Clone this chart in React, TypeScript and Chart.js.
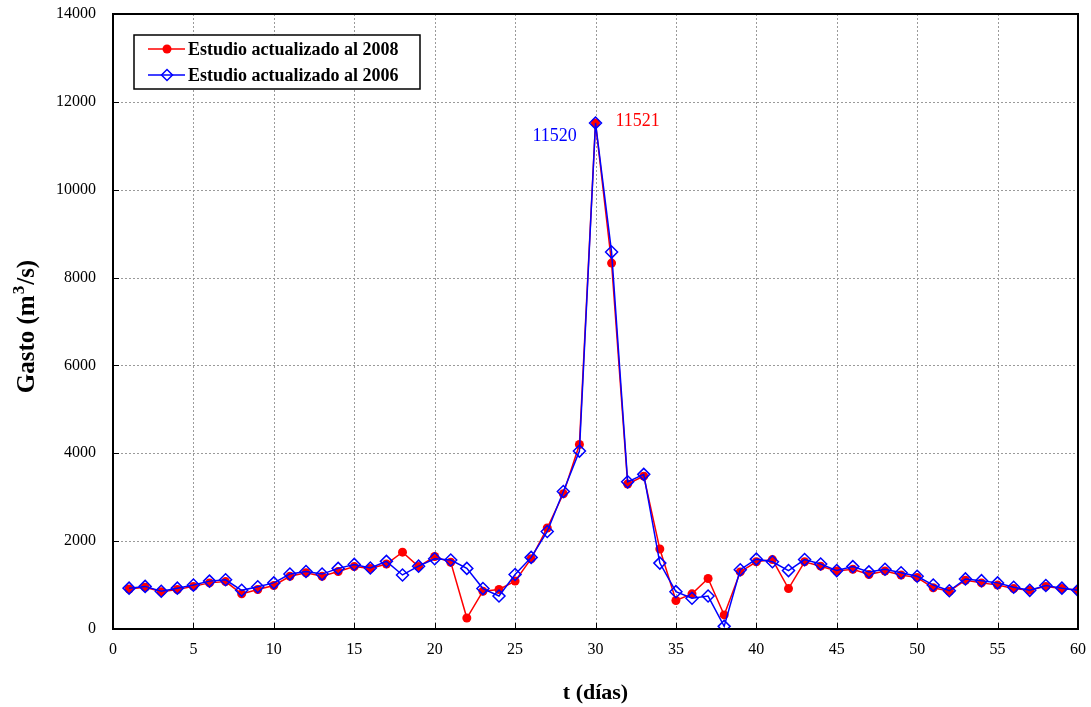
import React, { useEffect, useRef } from "react";
import { Chart, registerables } from "chart.js";

Chart.register(...registerables);

const days: number[] = Array.from({ length: 60 }, (_, i) => i + 1);

const gasto2008: number[] = [
  910, 950, 850, 900, 970, 1050, 1080, 800, 900, 990,
  1200, 1280, 1200, 1310, 1420, 1380, 1480, 1750, 1420, 1650,
  1520, 250, 860, 900, 1090, 1600, 2300, 3080, 4200, 11521,
  8330, 3300, 3480, 1820, 650, 800, 1150, 320, 1300, 1530,
  1580, 920, 1530, 1430, 1320, 1360, 1240, 1320, 1230, 1170,
  940, 860, 1110, 1050, 1000, 920, 880, 970, 920, 880,
];

const gasto2006: number[] = [
  930, 970, 860, 930, 1000, 1090, 1120, 880, 960, 1050,
  1250, 1310, 1250, 1380, 1470, 1390, 1540, 1230, 1430, 1600,
  1570, 1380, 920, 750, 1240, 1630, 2220, 3130, 4050, 11520,
  8580, 3350, 3520, 1500, 850, 700, 750, 60, 1350, 1590,
  1530, 1330, 1580, 1480, 1330, 1420, 1300, 1360, 1280, 1200,
  1000, 870, 1140, 1100, 1050, 950, 880, 990, 930, 880,
];

const seriesLabels: string[] = ["Estudio actualizado al 2008", "Estudio actualizado al 2006"];
const xTitle = "t (días)";
const yTitleParts: string[] = ["Gasto (m", "3", "/s)"];
const peakLabel2006 = "11520";
const peakLabel2008 = "11521";

const SERIF = "'Liberation Serif', 'Times New Roman', serif";

export default function App() {
  const ref = useRef<HTMLCanvasElement | null>(null);

  useEffect(() => {
    document.body.style.margin = "0";
    const canvas = ref.current;
    if (!canvas) return;

    const gridPlugin = {
      id: "dottedGrid",
      beforeDatasetsDraw(chart: any) {
        const { ctx, chartArea } = chart;
        const { left, right, top, bottom } = chartArea;
        const xs = chart.scales.x;
        const ys = chart.scales.y;
        ctx.save();
        ctx.strokeStyle = "#9a9a9a";
        ctx.lineWidth = 1;
        ctx.setLineDash([2, 2]);
        ctx.beginPath();
        for (let t = 5; t < 60; t += 5) {
          const px = Math.round(xs.getPixelForValue(t)) + 0.5;
          ctx.moveTo(px, top);
          ctx.lineTo(px, bottom);
        }
        for (let v = 2000; v < 14000; v += 2000) {
          const py = Math.round(ys.getPixelForValue(v)) + 0.5;
          ctx.moveTo(left, py);
          ctx.lineTo(right, py);
        }
        ctx.stroke();
        ctx.restore();
      },
    };

    const framePlugin = {
      id: "frameAndExtras",
      afterDraw(chart: any) {
        const { ctx, chartArea } = chart;
        const { left, right, top, bottom } = chartArea;
        const xs = chart.scales.x;
        const ys = chart.scales.y;
        ctx.save();
        // inward ticks
        ctx.strokeStyle = "#000";
        ctx.lineWidth = 1;
        ctx.beginPath();
        for (let t = 5; t < 60; t += 5) {
          const px = Math.round(xs.getPixelForValue(t)) + 0.5;
          ctx.moveTo(px, bottom);
          ctx.lineTo(px, bottom - 6);
        }
        for (let v = 2000; v < 14000; v += 2000) {
          const py = Math.round(ys.getPixelForValue(v)) + 0.5;
          ctx.moveTo(left, py);
          ctx.lineTo(left + 6, py);
        }
        ctx.stroke();
        // frame
        ctx.lineWidth = 2;
        ctx.strokeRect(left, top, right - left, bottom - top);

        // legend
        const lx = 134, ly = 35, lw = 286, lh = 54;
        ctx.fillStyle = "#fff";
        ctx.fillRect(lx, ly, lw, lh);
        ctx.lineWidth = 1.5;
        ctx.strokeStyle = "#000";
        ctx.strokeRect(lx, ly, lw, lh);
        const rows = [ly + 14, ly + 40];
        ctx.strokeStyle = "#ff0000";
        ctx.lineWidth = 1.5;
        ctx.beginPath();
        ctx.moveTo(148, rows[0]);
        ctx.lineTo(185, rows[0]);
        ctx.stroke();
        ctx.fillStyle = "#ff0000";
        ctx.beginPath();
        ctx.arc(167, rows[0], 4.5, 0, Math.PI * 2);
        ctx.fill();
        ctx.strokeStyle = "#0000ff";
        ctx.beginPath();
        ctx.moveTo(148, rows[1]);
        ctx.lineTo(185, rows[1]);
        ctx.stroke();
        ctx.beginPath();
        ctx.moveTo(167, rows[1] - 5.5);
        ctx.lineTo(172.5, rows[1]);
        ctx.lineTo(167, rows[1] + 5.5);
        ctx.lineTo(161.5, rows[1]);
        ctx.closePath();
        ctx.stroke();
        ctx.fillStyle = "#000";
        ctx.font = `bold 18px ${SERIF}`;
        ctx.textAlign = "left";
        ctx.textBaseline = "middle";
        ctx.fillText(seriesLabels[0], 188, rows[0] + 1);
        ctx.fillText(seriesLabels[1], 188, rows[1] + 1);

        // peak labels
        const px30 = xs.getPixelForValue(30);
        ctx.font = `18px ${SERIF}`;
        ctx.textBaseline = "middle";
        ctx.textAlign = "left";
        ctx.fillStyle = "#0000ff";
        ctx.fillText(peakLabel2006, px30 - 63, ys.getPixelForValue(11520) + 13);
        ctx.fillStyle = "#ff0000";
        ctx.fillText(peakLabel2008, px30 + 20, ys.getPixelForValue(11521) - 2);

        // y title with superscript
        const mainFont = `bold 25px ${SERIF}`;
        const supFont = `bold 17px ${SERIF}`;
        ctx.font = mainFont;
        const w0 = ctx.measureText(yTitleParts[0]).width;
        const w2 = ctx.measureText(yTitleParts[2]).width;
        ctx.font = supFont;
        const w1 = ctx.measureText(yTitleParts[1]).width;
        const total = w0 + w1 + w2 + 2;
        const cy = (top + bottom) / 2 + 5;
        ctx.translate(25, cy);
        ctx.rotate(-Math.PI / 2);
        ctx.fillStyle = "#000";
        ctx.textBaseline = "alphabetic";
        ctx.textAlign = "left";
        let x0 = -total / 2;
        const base = 9;
        ctx.font = mainFont;
        ctx.fillText(yTitleParts[0], x0, base);
        x0 += w0 + 1;
        ctx.font = supFont;
        ctx.fillText(yTitleParts[1], x0, base - 10);
        x0 += w1 + 1;
        ctx.font = mainFont;
        ctx.fillText(yTitleParts[2], x0, base);
        ctx.restore();
      },
    };

    const chart = new Chart(canvas, {
      type: "line",
      data: {
        labels: days,
        datasets: [
          {
            label: seriesLabels[0],
            data: days.map((d, i) => ({ x: d, y: gasto2008[i] })),
            borderColor: "#ff0000",
            backgroundColor: "#ff0000",
            borderWidth: 1.5,
            pointStyle: "circle",
            pointRadius: 4.5,
            pointBorderWidth: 0,
            pointBackgroundColor: "#ff0000",
            tension: 0,
            order: 1,
          },
          {
            label: seriesLabels[1],
            data: days.map((d, i) => ({ x: d, y: gasto2006[i] })),
            borderColor: "#0000ff",
            backgroundColor: "rgba(0,0,0,0)",
            borderWidth: 1.5,
            pointStyle: "rectRot",
            pointRadius: 6,
            pointBorderWidth: 1.5,
            pointBorderColor: "#0000ff",
            pointBackgroundColor: "rgba(0,0,0,0)",
            tension: 0,
            order: 0,
          },
        ],
      },
      options: {
        animation: false,
        responsive: false,
        maintainAspectRatio: false,
        layout: { padding: { top: 14, right: 13, left: 0, bottom: 0 } },
        plugins: {
          legend: { display: false },
          tooltip: { enabled: false },
        },
        scales: {
          x: {
            type: "linear",
            min: 0,
            max: 60,
            ticks: {
              stepSize: 5,
              color: "#000",
              font: { family: SERIF, size: 16 },
              padding: 11,
              maxRotation: 0,
              callback: (v: any) => String(v),
            },
            grid: { display: false, drawTicks: false },
            border: { display: false },
            title: {
              display: true,
              text: xTitle,
              color: "#000",
              font: { family: SERIF, size: 22, weight: "bold" },
              padding: { top: 0, bottom: 0 },
            },
            afterFit: (s: any) => {
              s.height = 78;
              s.paddingLeft = 0;
              s.paddingRight = 0;
            },
          },
          y: {
            type: "linear",
            min: 0,
            max: 14000,
            ticks: {
              stepSize: 2000,
              color: "#000",
              font: { family: SERIF, size: 16 },
              padding: 17,
              callback: (v: any) => String(v),
            },
            grid: { display: false, drawTicks: false },
            border: { display: false },
            title: { display: false },
            afterFit: (s: any) => {
              s.width = 113;
              s.paddingTop = 0;
              s.paddingBottom = 0;
            },
          },
        },
      },
      plugins: [gridPlugin, framePlugin],
    });

    return () => chart.destroy();
  }, []);

  return (
    <div style={{ position: "absolute", left: 0, top: 0, width: 1091, height: 707 }}>
      <canvas ref={ref} width={1091} height={707} style={{ width: 1091, height: 707 }} />
    </div>
  );
}
